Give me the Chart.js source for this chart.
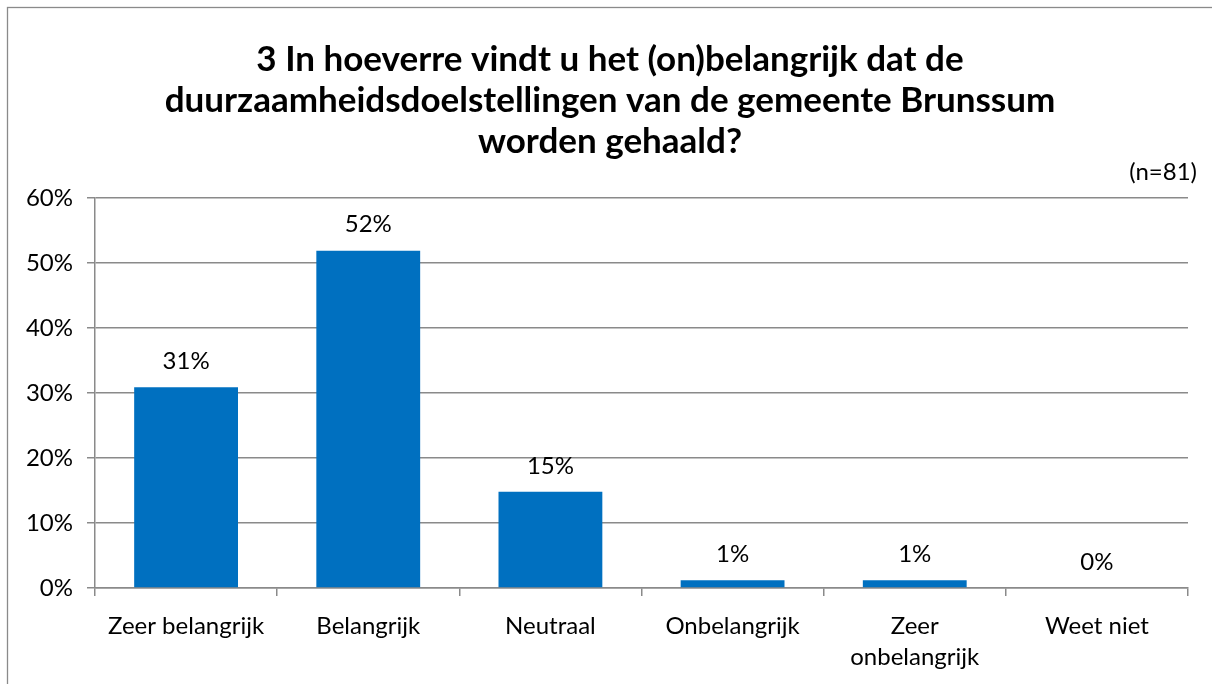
<!DOCTYPE html>
<html>
<head>
<meta charset="utf-8">
<script src="https://cdn.jsdelivr.net/npm/chart.js@4"></script>
<style>
  html, body { margin: 0; padding: 0; background: #fff; }
  #wrap { width: 1212px; height: 684px; position: relative; }
</style>
</head>
<body>
<div id="wrap"><canvas id="c" width="1212" height="684"></canvas></div>
<script>
const titleLines = [
  "3 In hoeverre vindt u het (on)belangrijk dat de",
  "duurzaamheidsdoelstellingen van de gemeente Brunssum",
  "worden gehaald?"
];
const sampleNote = "(n=81)";
const categories = [
  "Zeer belangrijk",
  "Belangrijk",
  "Neutraal",
  "Onbelangrijk",
  ["Zeer", "onbelangrijk"],
  "Weet niet"
];
const percentValues = [30.9, 51.9, 14.8, 1.2, 1.2, 0];
const yTickMax = 60;
const yTickStep = 10;

const FONT = "Lato, 'Open Sans', sans-serif";

const framePlugin = {
  id: 'frame',
  beforeDraw(chart) {
    const ctx = chart.ctx;
    ctx.save();
    ctx.fillStyle = '#ffffff';
    ctx.fillRect(0, 0, chart.width, chart.height);
    ctx.strokeStyle = '#8a8a8a';
    ctx.lineWidth = 1.3;
    ctx.strokeRect(7.5, 7.5, chart.width + 20, chart.height + 20);
    ctx.restore();
  }
};

const textPlugin = {
  id: 'texts',
  afterDraw(chart) {
    const ctx = chart.ctx;
    const area = chart.chartArea;
    ctx.save();
    ctx.fillStyle = '#000';
    ctx.textAlign = 'center';
    ctx.textBaseline = 'middle';
    ctx.font = "bold 35px " + FONT;
    const centers = [60, 101, 142];
    titleLines.forEach((t, i) => ctx.fillText(t, 610, centers[i]));
    ctx.font = "24px " + FONT;
    ctx.textAlign = 'right';
    ctx.fillText(sampleNote, area.right + 9, area.top - 26);
    // data labels
    ctx.textAlign = 'center';
    const meta = chart.getDatasetMeta(0);
    meta.data.forEach((bar, i) => {
      const v = percentValues[i];
      ctx.fillText(Math.round(v) + '%', bar.x, bar.y - 26);
    });
    ctx.restore();
  }
};

new Chart(document.getElementById('c'), {
  type: 'bar',
  data: {
    labels: categories,
    datasets: [{
      data: percentValues,
      backgroundColor: '#0070C0',
      borderWidth: 0,
      categoryPercentage: 1,
      barPercentage: 0.57
    }]
  },
  options: {
    responsive: false,
    animation: false,
    devicePixelRatio: 1,
    layout: { padding: { left: 10, right: 24, top: 198, bottom: 0 } },
    plugins: {
      legend: { display: false },
      title: { display: false },
      tooltip: { enabled: false }
    },
    scales: {
      x: {
        afterFit(s) { s.height = 96; },
        grid: {
          drawOnChartArea: false,
          drawTicks: true,
          tickLength: 8,
          color: '#8a8a8a',
          lineWidth: 1.5,
          offset: true
        },
        border: { color: '#8a8a8a', width: 1.5 },
        ticks: {
          color: '#000',
          padding: 14,
          maxRotation: 0,
          autoSkip: false,
          font: { family: FONT, size: 24, lineHeight: 1.32 }
        }
      },
      y: {
        min: 0,
        max: yTickMax,
        afterFit(s) { s.width = 85; },
        grid: {
          color: '#8a8a8a',
          lineWidth: 1.5,
          tickLength: 8
        },
        border: { color: '#8a8a8a', width: 1.5 },
        ticks: {
          stepSize: yTickStep,
          color: '#000',
          padding: 14,
          font: { family: FONT, size: 24 },
          callback: v => v + '%'
        }
      }
    }
  },
  plugins: [framePlugin, textPlugin]
});
</script>
</body>
</html>
